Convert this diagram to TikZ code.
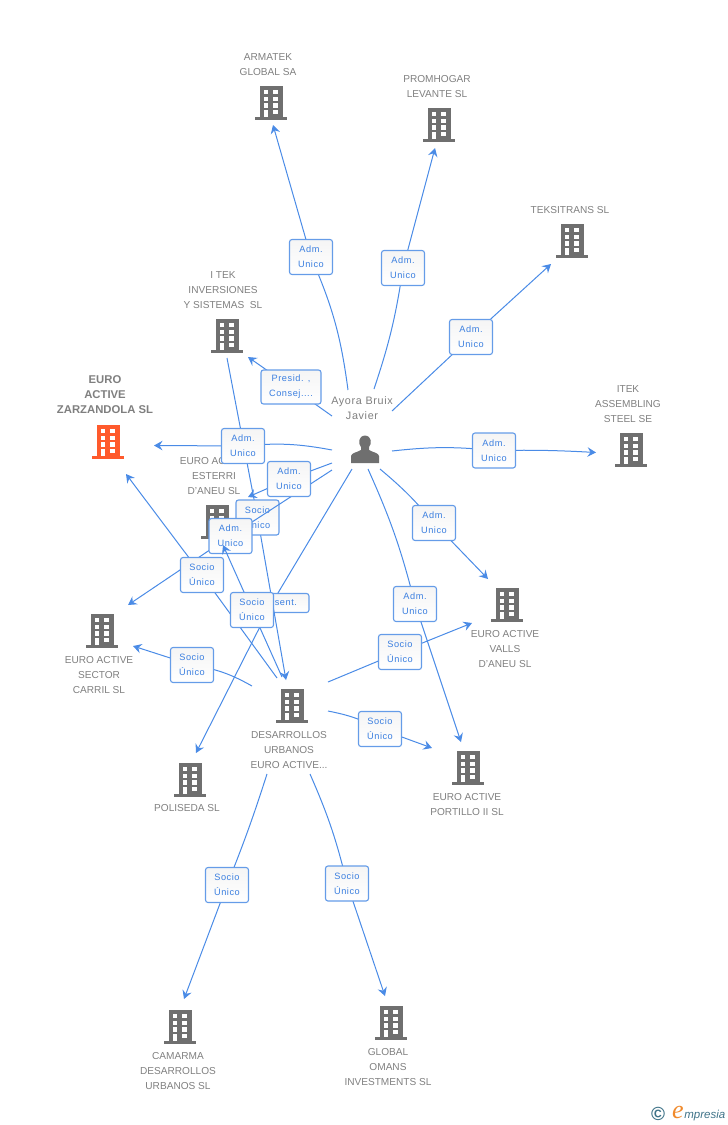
\documentclass[tikz,border=0pt]{standalone}
\usepackage{fontspec}
\setmainfont{Liberation Sans}
\newfontfamily\rolefont[LetterSpace=6]{Liberation Sans}
\newfontfamily\logofont{Liberation Serif}
\usetikzlibrary{arrows.meta}

\definecolor{linkblue}{HTML}{4A8BE6}
\definecolor{rolering}{HTML}{659CE8}
\definecolor{roletext}{HTML}{3B7FE0}
\definecolor{icongray}{HTML}{6F6F6F}
\definecolor{labelgray}{HTML}{7F7F7F}
\definecolor{mainorange}{HTML}{FF5A2C}
\definecolor{logoteal}{HTML}{3F7388}
\definecolor{logoorange}{HTML}{F08A2C}

\tikzset{
	building/.pic={
		\fill[pic actions] (-11,-17) rectangle (12,14);
		\fill[pic actions] (-16,14) rectangle (16,17);
		\fill[white] (-7,-13) rectangle (-2.7,-9);
		\fill[white] (2.3,-13) rectangle (7,-9);
		\fill[white] (-7,-6.3) rectangle (-2.7,-2);
		\fill[white] (2.3,-6.3) rectangle (7,-2);
		\fill[white] (-7,0.3) rectangle (-2.7,4.7);
		\fill[white] (2.3,0.3) rectangle (7,4.7);
		\fill[white] (-7,7) rectangle (-2.7,14);
		\fill[white] (2.3,7) rectangle (7,11);
	}
}

\begin{document}
\begin{tikzpicture}[
		x = 1pt, y = -1pt, % reference pixels
		> = {Stealth[length=8.5pt,width=9.5pt,inset=3pt]}, % arrow head style
		semithick
		]
		
		\tikzstyle{company}=[
		text = labelgray,
		align = center,
		font = \fontsize{10.1}{15}\selectfont,
		inner sep = 0pt
		]
		\tikzstyle{role}=[
		draw = rolering,
		top color = black!4,
		bottom color = white,
		rounded corners = 2.5pt,
		line width = 1.1pt,
		text = roletext,
		align = center,
		font = \rolefont\fontsize{9.2}{15}\selectfont,
		minimum width = 43pt,
		minimum height = 35pt,
		inner sep = 0pt
		]
		\tikzstyle{link}=[
		draw = linkblue,
		line width = 1pt
		]
		
		\useasboundingbox (0,0) rectangle (728,1125);
		
		% companies
		\pic[fill=icongray] (armatek) at (271,103) {building};
		\pic[fill=icongray] (promhogar) at (439,125) {building};
		\pic[fill=icongray] (teksitrans) at (572,241) {building};
		\pic[fill=icongray] (itek) at (227,336) {building};
		\pic[fill=icongray] (assembling) at (631,450) {building};
		\pic[fill=mainorange] (zarzandola) at (108,442) {building};
		\pic[fill=icongray] (esterri) at (217,522) {building};
		\pic[fill=icongray] (sector) at (102,631) {building};
		\pic[fill=icongray] (valls) at (507,605) {building};
		\pic[fill=icongray] (desarrollos) at (292,706) {building};
		\pic[fill=icongray] (poliseda) at (190,780) {building};
		\pic[fill=icongray] (portillo) at (468,768) {building};
		\pic[fill=icongray] (camarma) at (180,1027) {building};
		\pic[fill=icongray] (omans) at (391,1023) {building};
		
		\node[company] (armateklabel) at (268,64.5) {ARMATEK\\GLOBAL SA};
		\node[company] (promhogarlabel) at (437,86.5) {PROMHOGAR\\LEVANTE SL};
		\node[company] (teksitranslabel) at (570,210) {TEKSITRANS SL};
		\node[company] (iteklabel) at (223,290) {I TEK\\INVERSIONES\\Y SISTEMAS\ \ SL};
		\node[company] (assemblinglabel) at (628,404) {ITEK\\ASSEMBLING\\STEEL SE};
		\node[company,font=\fontsize{11.3}{15}\selectfont\bfseries] (zarzandolalabel) at (105,395) {EURO\\ACTIVE\\ZARZANDOLA SL};
		\node[company] (esterrilabel) at (214,476) {EURO ACTIVE\\ESTERRI\\D'ANEU SL};
		\node[company] (sectorlabel) at (99,675) {EURO ACTIVE\\SECTOR\\CARRIL SL};
		\node[company] (vallslabel) at (505,649) {EURO ACTIVE\\VALLS\\D'ANEU SL};
		\node[company] (desarrolloslabel) at (289,750) {DESARROLLOS\\URBANOS\\EURO ACTIVE...};
		\node[company] (polisedalabel) at (187,808) {POLISEDA SL};
		\node[company] (portillolabel) at (467,804.5) {EURO ACTIVE\\PORTILLO II SL};
		\node[company] (camarmalabel) at (178,1071) {CAMARMA\\DESARROLLOS\\URBANOS SL};
		\node[company] (omanslabel) at (388,1067) {GLOBAL\\OMANS\\INVESTMENTS SL};
		
		% person
		\node[company,font=\rolefont\fontsize{10.8}{15}\selectfont] (ayora) at (362,408.5) {Ayora Bruix\\Javier};
		\fill[icongray] (351,463) -- (351,456) .. controls (351,453) and (358,452) .. (361,450)
		-- (361,447) .. controls (358,444) and (358,436) .. (365,435.500)
		.. controls (372,436) and (372,444) .. (369,447) -- (369,450)
		.. controls (372,452) and (379,453) .. (379,456) -- (379,463) -- cycle;
		
		% links from the person
		\coordinate (armatekfrom) at (348,390);
		\coordinate (armatekvia) at (311,257);
		\coordinate (armatekto) at (273,125);
		\draw[link,->] (armatekfrom) to[bend right=8] (armatekvia) -- (armatekto);
		\node[role] (armatekrole) at (armatekvia) {Adm.\\Unico};
		
		\coordinate (promhogarfrom) at (374,389);
		\coordinate (promhogarvia) at (403,268);
		\coordinate (promhogarto) at (435,148);
		\draw[link,->] (promhogarfrom) to[bend right=5] (promhogarvia) -- (promhogarto);
		\node[role] (promhogarrole) at (promhogarvia) {Adm.\\Unico};
		
		\coordinate (teksitransfrom) at (392,411);
		\coordinate (teksitransvia) at (471,337);
		\coordinate (teksitransto) at (551,264);
		\draw[link,->] (teksitransfrom) -- (teksitransvia) -- (teksitransto);
		\node[role] (teksitransrole) at (teksitransvia) {Adm.\\Unico};
		
		\coordinate (itekfrom) at (332,416);
		\coordinate (itekvia) at (291,387);
		\coordinate (itekto) at (248,357);
		\draw[link,->] (itekfrom) -- (itekvia) -- (itekto);
		\node[role,minimum width=60pt,minimum height=34pt] (itekrole) at (itekvia) {Presid. ,\\Consej....};
		
		\coordinate (assemblingfrom) at (392,451);
		\coordinate (assemblingvia) at (494,450.5);
		\coordinate (assemblingto) at (596,452.5);
		\draw[link,->] (assemblingfrom) to[bend left=6] (assemblingvia) to[bend left=2] (assemblingto);
		\node[role] (assemblingrole) at (assemblingvia) {Adm.\\Unico};
		
		\coordinate (vallsfrom) at (380,469);
		\coordinate (vallsvia) at (434,523);
		\coordinate (vallsto) at (488,579);
		\draw[link,->] (vallsfrom) to[bend left=5] (vallsvia) -- (vallsto);
		\node[role] (vallsrole) at (vallsvia) {Adm.\\Unico};
		
		\coordinate (portillofrom) at (368,469);
		\coordinate (portillovia) at (415,604);
		\coordinate (portilloto) at (461,742);
		\draw[link,->] (portillofrom) to[bend left=5] (portillovia) -- (portilloto);
		\node[role] (portillorole) at (portillovia) {Adm.\\Unico};
		
		\coordinate (polisedafrom) at (352,469);
		\coordinate (polisedavia) at (272,603);
		\coordinate (polisedato) at (196,753);
		\draw[link,->] (polisedafrom) -- (polisedavia) -- (polisedato);
		\node[role,minimum width=74pt,minimum height=19pt] (polisedarole) at (polisedavia) {Represent.};
		
		% crowded middle
		\coordinate (itekdesfrom) at (227,358);
		\coordinate (itekdesvia) at (257.500,517.500);
		\coordinate (itekdesto) at (286,680);
		\draw[link,->] (itekdesfrom) -- (itekdesvia) -- (itekdesto);
		\node[role] (itekdesrole) at (itekdesvia) {Socio\\Único};
		
		\coordinate (zarzandolafrom) at (332,450);
		\coordinate (zarzandolavia) at (243,446);
		\coordinate (zarzandolato) at (154,445.500);
		\draw[link,->] (zarzandolafrom) to[bend right=8] (zarzandolavia) -- (zarzandolato);
		\node[role] (zarzandolarole) at (zarzandolavia) {Adm.\\Unico};
		
		\coordinate (sectorfrom) at (332,470);
		\coordinate (sectorvia) at (230.500,536);
		\coordinate (sectorto) at (128,605);
		\draw[link,->] (sectorfrom) -- (sectorvia) -- (sectorto);
		\node[role] (sectorrole) at (sectorvia) {Adm.\\Unico};
		
		\coordinate (esterrifrom) at (332,463);
		\coordinate (esterrivia) at (289,479);
		\coordinate (esterrito) at (248,497);
		\draw[link,->] (esterrifrom) -- (esterrivia) -- (esterrito);
		\node[role] (esterrirole) at (esterrivia) {Adm.\\Unico};
		
		\coordinate (mainfrom) at (277,678);
		\coordinate (mainvia) at (202,575);
		\coordinate (mainto) at (126,474);
		\draw[link,->] (mainfrom) -- (mainvia) -- (mainto);
		\node[role] (mainrole) at (mainvia) {Socio\\Único};
		
		\coordinate (desesterrifrom) at (282,677);
		\coordinate (desesterrivia) at (252,610);
		\coordinate (desesterrito) at (223,545);
		\draw[link,->] (desesterrifrom) -- (desesterrivia) -- (desesterrito);
		\node[role] (desesterrirole) at (desesterrivia) {Socio\\Único};
		
		% links from desarrollos
		\coordinate (desectorfrom) at (252,686);
		\coordinate (desectorvia) at (192,665);
		\coordinate (desectorto) at (133,646);
		\draw[link,->] (desectorfrom) to[bend right=10] (desectorvia) -- (desectorto);
		\node[role] (desectorrole) at (desectorvia) {Socio\\Único};
		
		\coordinate (desvallsfrom) at (328,682);
		\coordinate (desvallsvia) at (400,652);
		\coordinate (desvallsto) at (472,623);
		\draw[link,->] (desvallsfrom) -- (desvallsvia) -- (desvallsto);
		\node[role] (desvallsrole) at (desvallsvia) {Socio\\Único};
		
		\coordinate (desportillofrom) at (328,711);
		\coordinate (desportillovia) at (380,729);
		\coordinate (desportilloto) at (432,748);
		\draw[link,->] (desportillofrom) to[bend left=8] (desportillovia) -- (desportilloto);
		\node[role] (desportillorole) at (desportillovia) {Socio\\Único};
		
		\coordinate (camarmafrom) at (267,774);
		\coordinate (camarmavia) at (227,885);
		\coordinate (camarmato) at (184,999);
		\draw[link,->] (camarmafrom) to[bend left=2] (camarmavia) -- (camarmato);
		\node[role] (camarmarole) at (camarmavia) {Socio\\Único};
		
		\coordinate (omansfrom) at (310,774);
		\coordinate (omansvia) at (347,883.500);
		\coordinate (omansto) at (385,996);
		\draw[link,->] (omansfrom) to[bend left=5] (omansvia) -- (omansto);
		\node[role] (omansrole) at (omansvia) {Socio\\Único};
		
		% logo
		\node[text=logoteal,font=\fontsize{19}{19}\selectfont\bfseries,inner sep=0pt] (logomark) at (658,1114) {©};
		\node[text=logoorange,font=\logofont\itshape\fontsize{26}{26}\selectfont,inner sep=0pt] (logoe) at (678,1112) {e};
		\node[text=logoteal,font=\itshape\fontsize{11.5}{12}\selectfont,inner sep=0pt,anchor=base west] (logotext) at (684,1118) {mpresia};
		
		\end{tikzpicture}
\end{document}
